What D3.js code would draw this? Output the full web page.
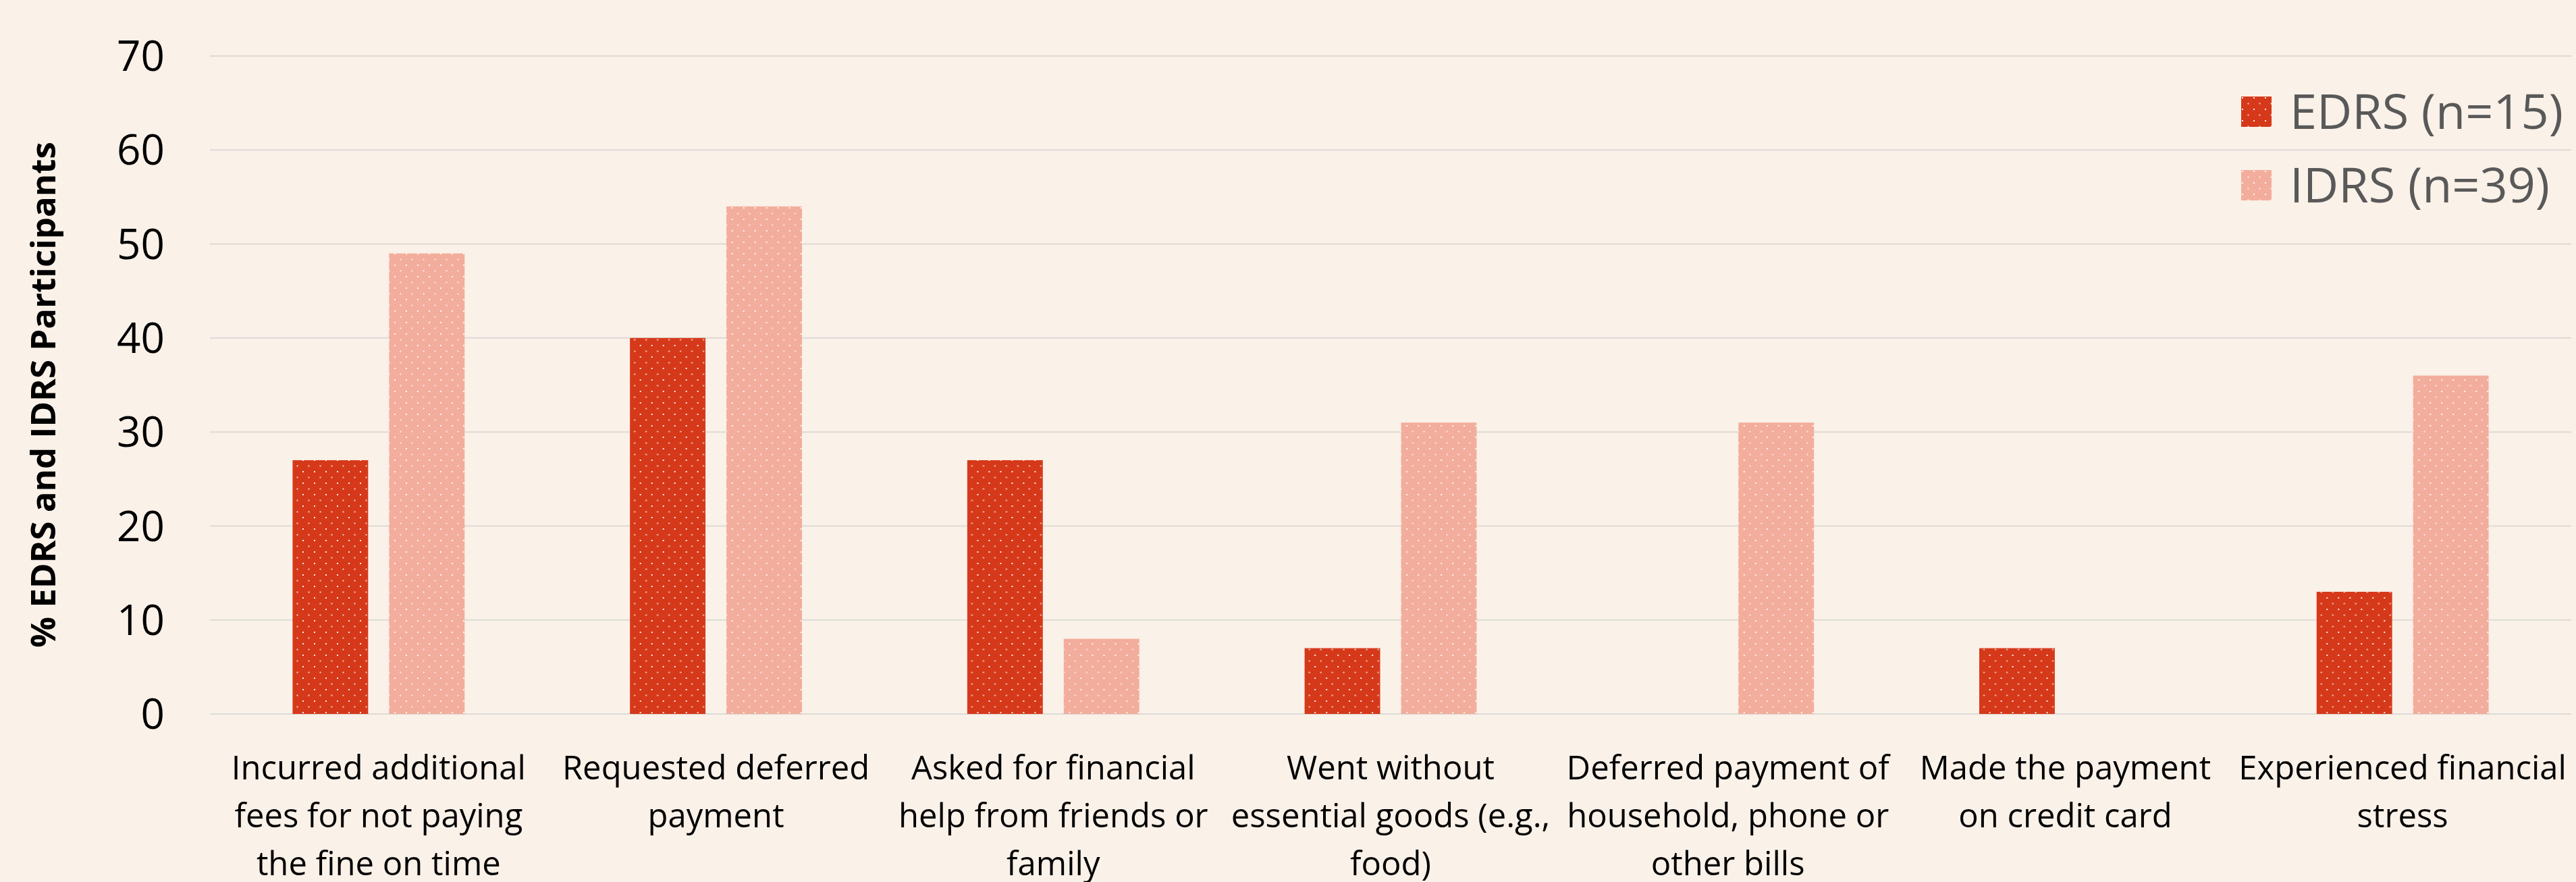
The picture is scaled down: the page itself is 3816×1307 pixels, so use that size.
<!DOCTYPE html>
<html>
<head>
<meta charset="utf-8">
<script src="https://cdn.jsdelivr.net/npm/d3@7"></script>
<style>
  html, body { margin: 0; padding: 0; background: #FAF1E8; }
  svg { display: block; }
  text { font-family: "Open Sans", "Noto Sans", sans-serif; }
</style>
</head>
<body>
<svg id="chart" width="3816" height="1307"></svg>
<script>
// ---- data ----
const categories = [
  "Incurred additional\nfees for not paying\nthe fine on time",
  "Requested deferred\npayment",
  "Asked for financial\nhelp from friends or\nfamily",
  "Went without\nessential goods (e.g.,\nfood)",
  "Deferred payment of\nhousehold, phone or\nother bills",
  "Made the payment\non credit card",
  "Experienced financial\nstress"
];
const seriesNames = ["EDRS (n=15)", "IDRS (n=39)"];
const edrsValues = [27, 40, 27, 7, 0, 7, 13];
const idrsValues = [49, 54, 8, 31, 31, 0, 36];
const yTicks = [0, 10, 20, 30, 40, 50, 60, 70];
const yTitle = "% EDRS and IDRS Participants";

// ---- layout ----
const W = 3816, H = 1307;
const plot = { left: 311, right: 3809, top: 83, bottom: 1058 };
const colors = { "EDRS (n=15)": "#D5391A", "IDRS (n=39)": "#F3AD9C" };

const svg = d3.select("#chart");
svg.append("rect").attr("width", W).attr("height", H).attr("fill", "#FAF1E8");

// patterns (dotted fill)
const defs = svg.append("defs");
seriesNames.forEach((s, i) => {
  const p = defs.append("pattern")
    .attr("id", "pat" + i)
    .attr("patternUnits", "userSpaceOnUse")
    .attr("width", 17).attr("height", 17);
  p.append("rect").attr("width", 17).attr("height", 17).attr("fill", colors[s]);
  p.append("rect").attr("x", 1).attr("y", 1).attr("width", 2).attr("height", 2).attr("fill", "#fff").attr("opacity", 0.9);
  p.append("rect").attr("x", 9.5).attr("y", 9.5).attr("width", 2).attr("height", 2).attr("fill", "#fff").attr("opacity", 0.75);
});

const rows = categories.map((c, i) => ({ cat: c, values: [edrsValues[i], idrsValues[i]] }));

const x0 = d3.scaleBand().domain(categories).range([plot.left, plot.right]).padding(0);
const bw = x0.bandwidth();
const x1 = d3.scaleBand().domain(seriesNames).range([bw * 0.245, bw * 0.755]).paddingInner(0.217);
const y = d3.scaleLinear().domain([0, 70]).range([plot.bottom, plot.top]);

// gridlines
svg.append("g").selectAll("line").data(yTicks).join("line")
  .attr("x1", plot.left).attr("x2", plot.right)
  .attr("y1", d => y(d)).attr("y2", d => y(d))
  .attr("stroke", "#DDDAD6").attr("stroke-width", 2);

// y axis labels
const yAxis = d3.axisLeft(y).tickValues(yTicks).tickSize(0).tickPadding(0);
const ya = svg.append("g").attr("transform", `translate(244,0)`).call(yAxis);
ya.select(".domain").remove();
ya.selectAll("text")
  .attr("font-family", "'Open Sans', 'Noto Sans', sans-serif")
  .attr("font-size", 62).attr("fill", "#000")
  .attr("text-anchor", "end").attr("dy", "0.35em").attr("x", 0);

// bars
const groups = svg.append("g").selectAll("g").data(rows).join("g")
  .attr("transform", d => `translate(${x0(d.cat)},0)`);
groups.selectAll("rect").data(d => d.values.map((v, i) => ({ key: seriesNames[i], i, v })))
  .join("rect")
  .attr("x", d => x1(d.key))
  .attr("width", x1.bandwidth())
  .attr("y", d => y(d.v))
  .attr("height", d => y(0) - y(d.v))
  .attr("fill", d => `url(#pat${d.i})`);

// x labels
const xl = svg.append("g").selectAll("text").data(categories).join("text")
  .attr("x", d => x0(d) + bw / 2)
  .attr("y", 1155)
  .attr("text-anchor", "middle")
  .attr("font-size", 49)
  .attr("fill", "#000");
xl.each(function (d) {
  const t = d3.select(this);
  d.split("\n").forEach((line, k) => {
    t.append("tspan").attr("x", x0(d) + bw / 2).attr("dy", k === 0 ? 0 : 71).text(line);
  });
});

// y title
svg.append("text")
  .attr("transform", `translate(82,585) rotate(-90)`)
  .attr("text-anchor", "middle")
  .attr("font-size", 51).attr("font-weight", "bold").attr("fill", "#000")
  .text(yTitle);

// legend
const leg = svg.append("g").selectAll("g").data(seriesNames).join("g")
  .attr("transform", (d, i) => `translate(3320,${143 + i * 109})`);
leg.append("rect").attr("width", 45).attr("height", 45)
  .attr("fill", (d, i) => `url(#pat${i})`);
leg.append("text").attr("x", 72).attr("y", 48)
  .attr("font-size", 72).attr("fill", "#595959").text(d => d);
</script>
</body>
</html>
